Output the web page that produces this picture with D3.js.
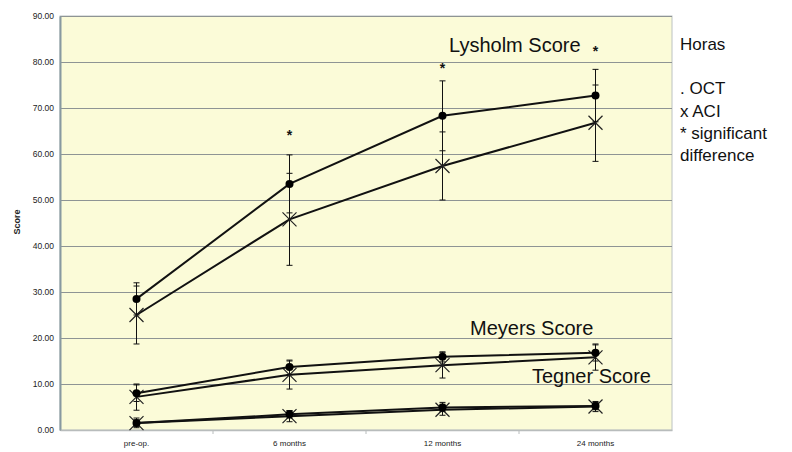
<!DOCTYPE html>
<html>
<head>
<meta charset="utf-8">
<script src="https://cdn.jsdelivr.net/npm/d3@7"></script>
<style>
  body { margin: 0; background: #fff; }
  text { font-family: Arial, "Liberation Sans", sans-serif; }
</style>
</head>
<body>
<div class="chart"></div>
<script>
const categories = ['pre-op.', '6 months', '12 months', '24 months'];
const yTicks = [0, 10, 20, 30, 40, 50, 60, 70, 80, 90];

// mean, error (low/high) for each score, OCT and ACI
const lysholmOCT = [28.5, 53.5, 68.3, 72.7];
const lysholmOCTErr = [[25.0, 32.0], [47.2, 59.8], [60.7, 75.9], [67.0, 78.4]];
const lysholmACI = [25.0, 45.8, 57.4, 66.8];
const lysholmACIErr = [[18.7, 31.3], [35.8, 55.8], [50.0, 64.8], [58.4, 75.0]];

const meyersOCT = [8.0, 13.7, 15.9, 16.8];
const meyersOCTErr = [[6.2, 9.8], [12.0, 15.2], [14.8, 17.0], [15.0, 18.7]];
const meyersACI = [7.2, 12.0, 14.1, 15.8];
const meyersACIErr = [[4.3, 10.0], [8.9, 15.0], [11.3, 16.8], [13.0, 18.5]];

const tegnerOCT = [1.5, 3.4, 4.9, 5.2];
const tegnerOCTErr = [[0.8, 2.2], [2.6, 4.2], [4.0, 6.0], [4.4, 6.0]];
const tegnerACI = [1.5, 3.0, 4.4, 5.1];
const tegnerACIErr = [[0.5, 2.6], [1.8, 4.2], [3.2, 5.6], [4.0, 6.2]];

const stars = [null, 64.5, 79.2, 82.8];

const legendLines = ['Horas', '', '. OCT', 'x ACI', '* significant', 'difference'];

const width = 792, height = 452;
const margin = {top: 16, right: 120, bottom: 22, left: 60};
const innerW = width - margin.left - margin.right;
const innerH = height - margin.top - margin.bottom;

const svg = d3.select('.chart').append('svg')
  .attr('width', width).attr('height', height);
const g = svg.append('g').attr('transform', `translate(${margin.left},${margin.top})`);

const x = d3.scaleBand().domain(categories).range([0, innerW]);
const y = d3.scaleLinear().domain([0, 90]).range([innerH, 0]);
const cx = c => x(c) + x.bandwidth() / 2;

// plot background
g.append('rect').attr('width', innerW).attr('height', innerH)
  .attr('fill', '#fbfbd8').attr('stroke', '#bcc2c2').attr('stroke-width', 1);

// gridlines + y axis
const yAxis = d3.axisLeft(y).tickValues(yTicks).tickFormat(d3.format('.2f'))
  .tickSizeInner(-innerW).tickSizeOuter(0).tickPadding(6);
const yAxisG = g.append('g').call(yAxis);
yAxisG.selectAll('.tick line').attr('stroke', '#8e9494').attr('stroke-width', 1.2);
yAxisG.select('.domain').attr('stroke', '#8899a0').attr('stroke-width', 2).raise();
yAxisG.selectAll('.tick text').style('font-size', '8.5px').attr('fill', '#222');

// x axis
const xAxis = d3.axisBottom(x).tickSize(0).tickPadding(10);
const xAxisG = g.append('g').attr('transform', `translate(0,${innerH})`).call(xAxis);
xAxisG.select('.domain').attr('stroke', '#b8bcbc').attr('stroke-width', 1.5);
xAxisG.selectAll('.tick text').style('font-size', '8px').attr('fill', '#222');
// category boundary ticks
g.append('g').selectAll('line').data(categories.slice(1)).join('line')
  .attr('x1', d => x(d)).attr('x2', d => x(d))
  .attr('y1', innerH).attr('y2', innerH + 4)
  .attr('stroke', '#b8bcbc');

// y axis title
svg.append('text')
  .attr('transform', 'translate(20,222) rotate(-90)')
  .attr('text-anchor', 'middle')
  .style('font-size', '9px').style('font-weight', 'bold')
  .attr('fill', '#222').text('Score');

function drawSeries(values, errs, marker) {
  const pts = categories.map((c, i) => ({c, v: values[i], lo: errs[i][0], hi: errs[i][1]}));
  const line = d3.line().x(d => cx(d.c)).y(d => y(d.v));
  const eb = g.append('g').attr('stroke', '#111').attr('stroke-width', 1);
  eb.selectAll('.eb').data(pts).join('line')
    .attr('x1', d => cx(d.c)).attr('x2', d => cx(d.c))
    .attr('y1', d => y(d.lo)).attr('y2', d => y(d.hi));
  ['lo', 'hi'].forEach(k => {
    eb.selectAll('.cap' + k).data(pts).join('line')
      .attr('x1', d => cx(d.c) - 3).attr('x2', d => cx(d.c) + 3)
      .attr('y1', d => y(d[k])).attr('y2', d => y(d[k]));
  });
  g.append('path').datum(pts).attr('d', line)
    .attr('fill', 'none').attr('stroke', '#111').attr('stroke-width', 2);
  if (marker === 'dot') {
    g.append('g').selectAll('circle').data(pts).join('circle')
      .attr('cx', d => cx(d.c)).attr('cy', d => y(d.v)).attr('r', 4)
      .attr('fill', '#000');
  } else {
    const s = 7;
    g.append('g').selectAll('path').data(pts).join('path')
      .attr('d', d => {
        const px = cx(d.c), py = y(d.v);
        return `M${px - s},${py - s}L${px + s},${py + s}M${px - s},${py + s}L${px + s},${py - s}`;
      })
      .attr('stroke', '#222').attr('stroke-width', 1.2).attr('fill', 'none');
  }
}

drawSeries(lysholmACI, lysholmACIErr, 'x');
drawSeries(lysholmOCT, lysholmOCTErr, 'dot');
drawSeries(meyersACI, meyersACIErr, 'x');
drawSeries(meyersOCT, meyersOCTErr, 'dot');
drawSeries(tegnerACI, tegnerACIErr, 'x');
drawSeries(tegnerOCT, tegnerOCTErr, 'dot');

// significance stars
g.append('g').selectAll('text').data(categories.map((c, i) => ({c, v: stars[i]})).filter(d => d.v !== null))
  .join('text')
  .attr('x', d => cx(d.c)).attr('y', d => y(d.v) + 7)
  .attr('text-anchor', 'middle')
  .style('font-size', '14px').style('font-weight', 'bold')
  .attr('fill', '#111').text('*');

// series labels
const labelStyle = sel => sel.style('font-size', '20px').attr('fill', '#111');
g.append('text').attr('x', 449 - margin.left).attr('y', 52 - margin.top).text('Lysholm Score').call(labelStyle);
g.append('text').attr('x', 470 - margin.left).attr('y', 335 - margin.top).text('Meyers Score').call(labelStyle);
g.append('text').attr('x', 532 - margin.left).attr('y', 383 - margin.top).text('Tegner Score').call(labelStyle);

// legend text
svg.append('g').selectAll('text').data(legendLines).join('text')
  .attr('x', 680).attr('y', (d, i) => 50 + i * 22.2)
  .style('font-size', '17px').attr('fill', '#111')
  .text(d => d);
</script>
</body>
</html>
